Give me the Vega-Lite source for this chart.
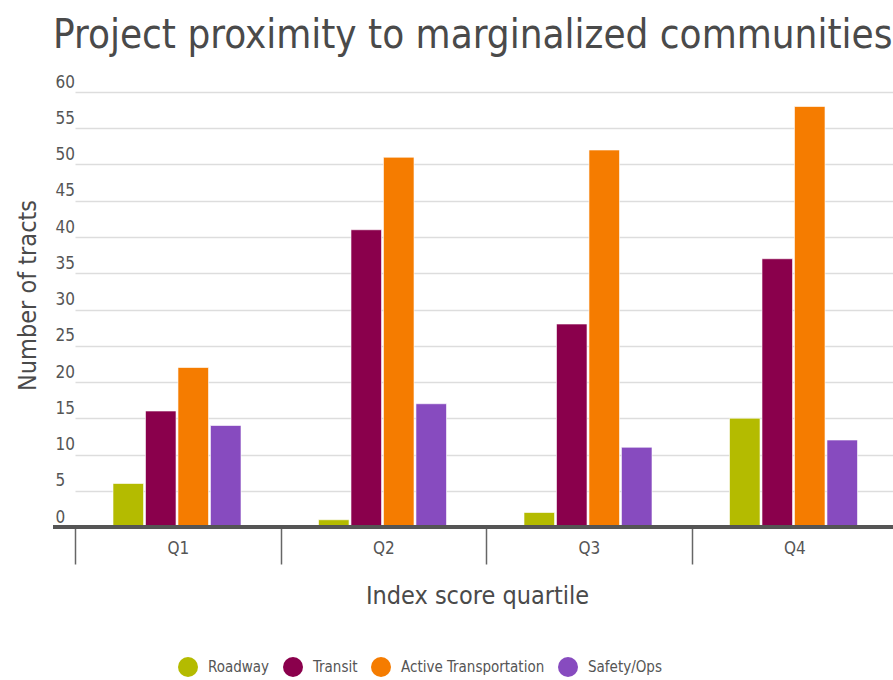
{
  "$schema": "https://vega.github.io/schema/vega-lite/v6.json",
  "width": 840,
  "height": 435,
  "autosize": "none",
  "padding": {"left": 53, "top": 92, "right": 0, "bottom": 153},
  "background": "white",
  "title": {
    "text": "Project proximity to marginalized communities",
    "anchor": "start",
    "frame": "group",
    "font": "DejaVu Sans Condensed, Roboto, sans-serif",
    "fontSize": 40,
    "fontWeight": "normal",
    "color": "#4a4a4a",
    "baseline": "alphabetic",
    "offset": -15
  },
  "config": {
    "view": {"stroke": null},
    "font": "DejaVu Sans Condensed, Roboto, sans-serif"
  },
  "data": {
    "values": [
      {"quartile": "Q1", "type": "Roadway", "count": 6},
      {"quartile": "Q1", "type": "Transit", "count": 16},
      {"quartile": "Q1", "type": "Active Transportation", "count": 22},
      {"quartile": "Q1", "type": "Safety/Ops", "count": 14},
      {"quartile": "Q2", "type": "Roadway", "count": 1},
      {"quartile": "Q2", "type": "Transit", "count": 41},
      {"quartile": "Q2", "type": "Active Transportation", "count": 51},
      {"quartile": "Q2", "type": "Safety/Ops", "count": 17},
      {"quartile": "Q3", "type": "Roadway", "count": 2},
      {"quartile": "Q3", "type": "Transit", "count": 28},
      {"quartile": "Q3", "type": "Active Transportation", "count": 52},
      {"quartile": "Q3", "type": "Safety/Ops", "count": 11},
      {"quartile": "Q4", "type": "Roadway", "count": 15},
      {"quartile": "Q4", "type": "Transit", "count": 37},
      {"quartile": "Q4", "type": "Active Transportation", "count": 58},
      {"quartile": "Q4", "type": "Safety/Ops", "count": 12}
    ]
  },
  "encoding": {
    "y": {
      "field": "count",
      "type": "quantitative",
      "scale": {"domain": [0, 60], "nice": false},
      "axis": {
        "values": [0, 5, 10, 15, 20, 25, 30, 35, 40, 45, 50, 55, 60],
        "labelOverlap": false,
        "title": "Number of tracts",
        "titleFontSize": 25,
        "titleFontWeight": "normal",
        "titleColor": "#4a4a4a",
        "titleX": -26,
        "titleY": 203,
        "titleBaseline": "middle",
        "titleAlign": "center",
        "ticks": false,
        "domain": false,
        "labelAlign": "left",
        "labelBaseline": "alphabetic",
        "labelPadding": -2,
        "labelOffset": -5,
        "labelFontSize": 17,
        "labelColor": "#555555",
        "grid": true,
        "gridColor": "#dddddd",
        "gridWidth": 1.5
      }
    }
  },
  "layer": [
    {
      "mark": {"type": "bar", "stroke": "#ffffff", "strokeWidth": 1, "strokeOpacity": 0.6},
      "encoding": {
        "x": {
          "field": "quartile",
          "type": "nominal",
          "scale": {"paddingInner": 0, "paddingOuter": 0, "range": [22, 844]},
          "axis": {
            "title": "Index score quartile",
            "titleFontSize": 25,
            "titleFontWeight": "normal",
            "titleColor": "#4a4a4a",
            "titleX": 424,
            "titleY": 68,
            "titleBaseline": "middle",
            "labelAngle": 0,
            "labelFontSize": 17,
            "labelColor": "#555555",
            "labelPadding": -24,
            "tickSize": 37,
            "tickColor": "#666666",
            "tickWidth": 1.5,
            "tickBand": "extent",
            "domain": false,
            "grid": false
          }
        },
        "xOffset": {
          "field": "type",
          "type": "nominal",
          "sort": ["Roadway", "Transit", "Active Transportation", "Safety/Ops"],
          "scale": {"paddingInner": 0.06, "paddingOuter": 0, "range": [38, 166]}
        },
        "color": {
          "field": "type",
          "type": "nominal",
          "scale": {
            "domain": ["Roadway", "Transit", "Active Transportation", "Safety/Ops"],
            "range": ["#b4bb00", "#8a004c", "#f57c00", "#874bbf"]
          },
          "legend": {
            "title": null,
            "orient": "none",
            "legendX": 125,
            "legendY": 565,
            "direction": "horizontal",
            "symbolType": "circle",
            "symbolSize": 400,
            "symbolStrokeWidth": 0,
            "labelFontSize": 15,
            "labelColor": "#555555",
            "labelLimit": 300,
            "labelOffset": 10,
            "columnPadding": 13
          }
        }
      }
    },
    {
      "mark": {"type": "rule", "color": "#555555", "strokeWidth": 3},
      "encoding": {"y": {"datum": 0}}
    }
  ]
}
